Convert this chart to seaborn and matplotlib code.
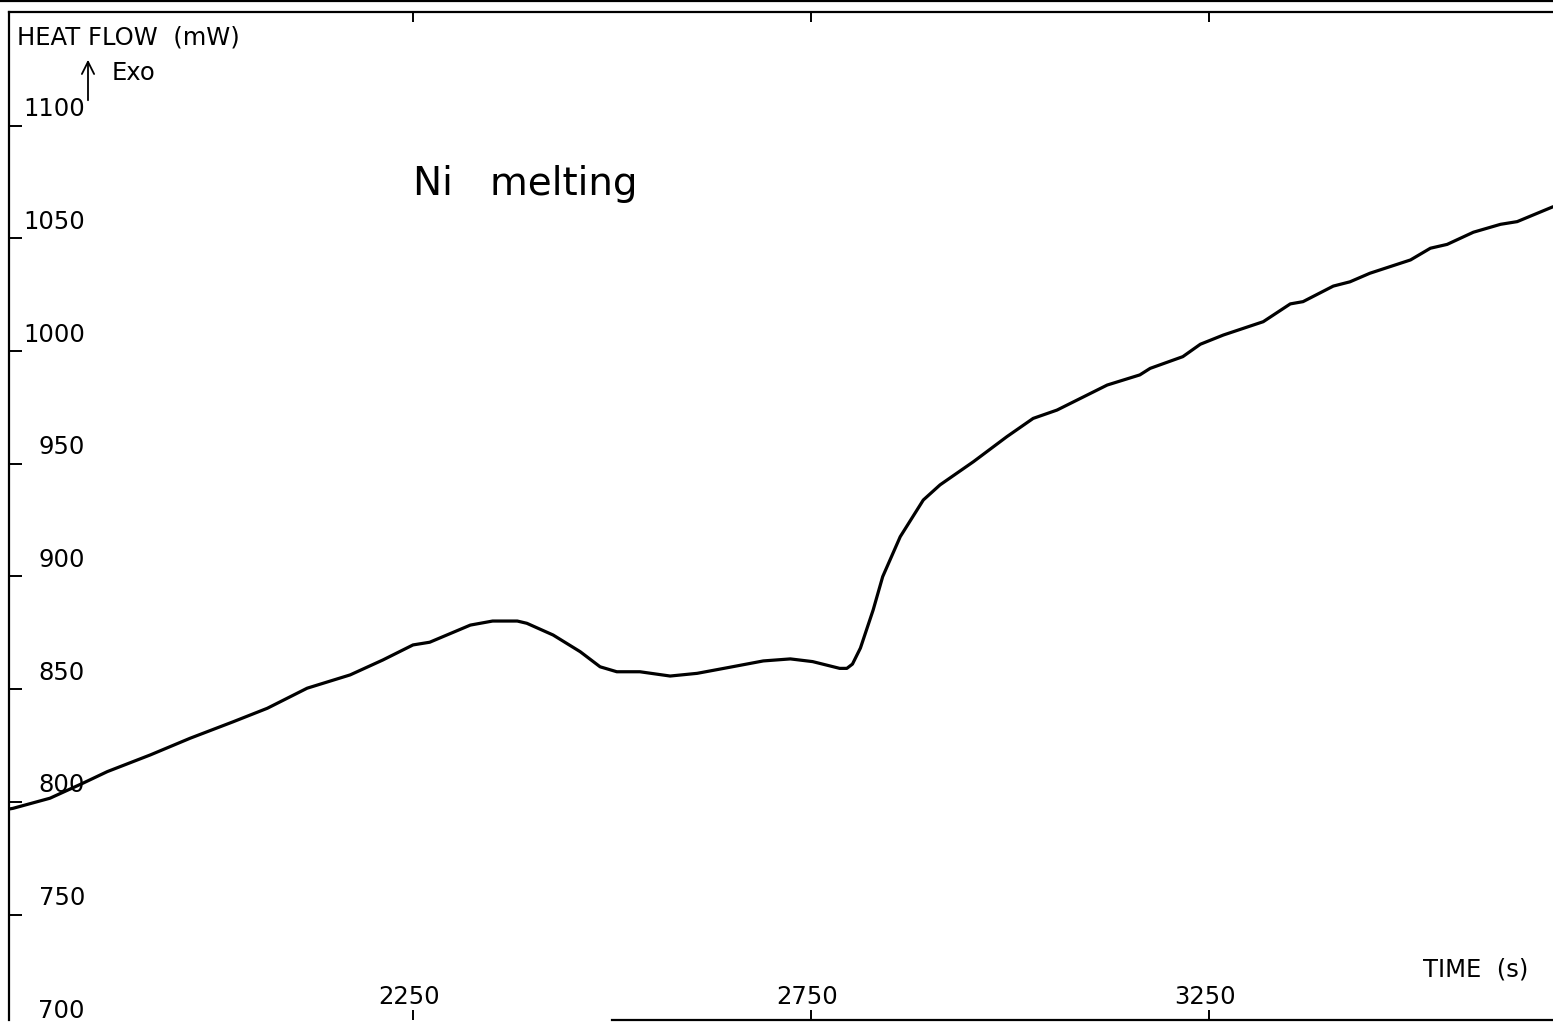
import numpy as np
import pandas as pd
import seaborn as sns
import matplotlib
matplotlib.use("Agg")
import matplotlib.pyplot as plt
import matplotlib.transforms as mtransforms
from matplotlib.lines import Line2D

# ---- data ----
time_s = [1742.5, 1747.5, 1794, 1835, 1866, 1920, 1970, 2024, 2067, 2117, 2171, 2212,
          2250, 2271, 2322, 2350, 2381, 2393, 2426, 2460, 2485, 2506, 2535, 2573, 2607,
          2648, 2690, 2724, 2752, 2786, 2795, 2802, 2812, 2828, 2840, 2862, 2891, 2912,
          2954, 2996, 3029, 3059, 3122, 3163, 3176, 3217, 3239, 3268, 3318, 3352, 3368,
          3406, 3427, 3452, 3503, 3528, 3549, 3582, 3616, 3637, 3682]
heat_flow_mw = [796.8, 797.1, 801.6, 808.2, 813.4, 820.8, 828.2, 835.5, 841.5, 850.4, 856.3, 862.9,
                869.6, 870.8, 878.4, 880.2, 880.2, 879.2, 874.0, 866.6, 859.9, 857.7, 857.7, 855.8, 857.0,
                859.7, 862.5, 863.4, 862.2, 859.2, 859.2, 861.1, 868.2, 885.1, 899.9, 917.6, 933.9, 940.6,
                950.9, 962.0, 970.1, 973.8, 984.9, 989.4, 992.3, 997.5, 1003.0, 1007.1, 1013.0, 1020.9, 1021.9,
                1028.8, 1030.7, 1034.5, 1040.4, 1045.6, 1047.3, 1052.7, 1056.2, 1057.4, 1064.0]
x_ticks = [2250, 2750, 3250]
y_ticks = [700, 750, 800, 850, 900, 950, 1000, 1050, 1100]
x_label = "TIME  (s)"
y_label = "HEAT FLOW  (mW)"
annotation = "Ni   melting"

df = pd.DataFrame({"time": time_s, "heat": heat_flow_mw})

sns.set_theme(style="white")
plt.rcParams["font.family"] = ["DejaVu Sans"]

W, H = 1553, 1023
XMIN, XMAX = 1742.5, 3682
YMIN, YMAX = 703.2, 1150.4

fig = plt.figure(figsize=(W / 100, H / 100), dpi=100)
ax = fig.add_axes([9 / W, 3 / H, (W - 9) / W, (1020 - 12) / H])

sns.lineplot(data=df, x="time", y="heat", color="black", lw=2.3, ax=ax,
             sort=False, estimator=None)

ax.set_xlim(XMIN, XMAX)
ax.set_ylim(YMIN, YMAX)
ax.set_xlabel("")
ax.set_ylabel("")

for s in ["left", "top", "bottom"]:
    ax.spines[s].set_visible(True)
    ax.spines[s].set_color("black")
    ax.spines[s].set_linewidth(1.6)
ax.spines["right"].set_visible(False)
ax.spines["bottom"].set_bounds(2500, XMAX)

ax.set_xticks(x_ticks)
ax.set_yticks([v for v in y_ticks if YMIN <= v <= YMAX])
ax.set_xticklabels([])
ax.set_yticklabels([])
ax.tick_params(axis="y", direction="in", length=9.5, width=1.4, left=True, right=False, color="black")
ax.tick_params(axis="x", direction="in", length=7, width=1.4, bottom=True, top=True, color="black")

fs = 17.5
# y tick labels: right-aligned, sitting above each tick
ylab_tr = mtransforms.offset_copy(ax.transData, fig=fig, x=0, y=16.5, units="dots")
yl_tr = mtransforms.blended_transform_factory(fig.transFigure, ylab_tr)
for v in y_ticks:
    ax.text(85 / W, v, str(v), transform=yl_tr, ha="right", va="center",
            fontsize=fs, color="black", clip_on=False)

# x tick labels: centered above bottom ticks
xbase = mtransforms.blended_transform_factory(ax.transData, ax.transAxes)
xlab_tr = mtransforms.offset_copy(xbase, fig=fig, x=-4, y=23, units="dots")
for t in x_ticks:
    ax.text(t, 0, str(t), transform=xlab_tr, ha="center", va="center",
            fontsize=fs, color="black", clip_on=False)

# axis titles placed like the instrument plot
fig.text(17 / W, 1 - 37 / H, y_label, ha="left", va="center", fontsize=fs, color="black")
fig.text(112 / W, 1 - 73 / H, "Exo", ha="left", va="center", fontsize=fs, color="black")
fig.text(1528 / W, 1 - 970 / H, x_label, ha="right", va="center", fontsize=fs, color="black")
fig.text(413 / W, 1 - 195 / H, annotation, ha="left", va="baseline", fontsize=28, color="black")

# Exo arrow
ax.annotate("", xy=(88 / W, 1 - 57 / H), xytext=(88 / W, 1 - 103 / H),
            xycoords="figure fraction", textcoords="figure fraction",
            arrowprops=dict(arrowstyle="->", lw=1.3, color="black", mutation_scale=22))

# outer page border at top
fig.add_artist(Line2D([0, 1], [1 - 1 / H, 1 - 1 / H], transform=fig.transFigure,
                      color="black", lw=1.6))

fig.savefig("out.png", dpi=100)
